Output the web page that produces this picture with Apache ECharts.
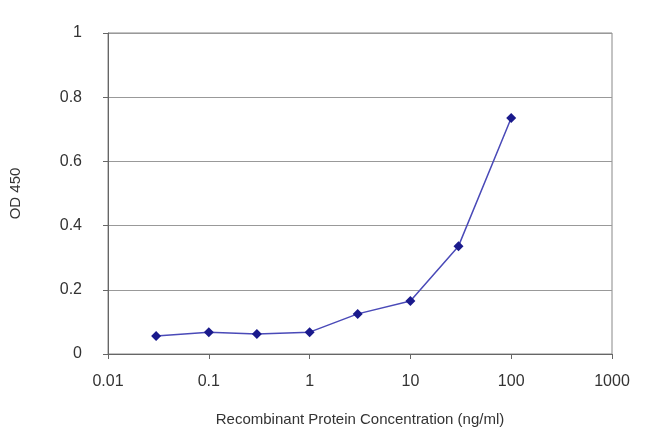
<!DOCTYPE html>
<html><head><meta charset="utf-8">
<script src="https://cdn.jsdelivr.net/npm/echarts@6/dist/echarts.min.js"></script>
<style>html,body{margin:0;padding:0;background:#fff}#c{width:650px;height:433px}</style>
</head><body><div id="c"></div>
<script>
const concentrations = [0.03, 0.1, 0.3, 1, 3, 10, 30, 100];
const od450 = [0.056, 0.068, 0.062, 0.068, 0.125, 0.165, 0.336, 0.735];
const yTicks = [0, 0.2, 0.4, 0.6, 0.8, 1];
const chart = echarts.init(document.getElementById('c'));
const font = 'Liberation Sans, Arial, sans-serif';
chart.setOption({
  animation: false,
  grid: {left: 107, right: 38, top: 33, bottom: 79, show: true, borderColor: '#888', borderWidth: 1},
  xAxis: {
    type: 'log', logBase: 10, min: 0.01, max: 1000,
    name: 'Recombinant Protein Concentration (ng/ml)', nameLocation: 'middle', nameGap: 58,
    nameTextStyle: {fontFamily: font, fontSize: 15, color: '#333'},
    axisLine: {lineStyle: {color: '#666'}}, axisTick: {show: true, inside: false, lineStyle: {color: '#666'}},
    splitLine: {show: false}, minorTick: {show: false},
    axisLabel: {fontFamily: font, fontSize: 16, color: '#333', margin: 20,
      formatter: v => String(+v.toPrecision(3))}
  },
  yAxis: {
    type: 'value', min: 0, max: 1, interval: 0.2,
    name: 'OD 450', nameLocation: 'middle', nameGap: 85, nameRotate: 90,
    nameTextStyle: {fontFamily: font, fontSize: 15, color: '#333'},
    axisLine: {show: true, lineStyle: {color: '#666'}}, axisTick: {show: true, lineStyle: {color: '#666'}},
    splitLine: {show: true, lineStyle: {color: '#999', width: 1}},
    axisLabel: {fontFamily: font, fontSize: 16, color: '#333', margin: 26,
      formatter: v => yTicks.includes(+v.toFixed(1)) ? String(+v.toFixed(1)) : ''}
  },
  series: [{
    type: 'line', data: concentrations.map((c, i) => [c, od450[i]]),
    symbol: 'diamond', symbolSize: 10,
    lineStyle: {color: '#4a4ab8', width: 1.5},
    itemStyle: {color: '#1a1a8c'}
  }]
});
</script></body></html>
